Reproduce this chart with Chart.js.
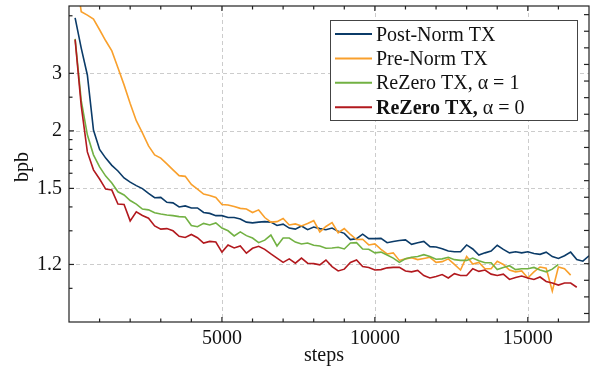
<!DOCTYPE html>
<html lang="en">
<head>
<meta charset="UTF-8">
<title>bpb vs steps</title>
<script src="https://cdn.jsdelivr.net/npm/chart.js"></script>
<style>
  html, body { margin: 0; padding: 0; background: #fff; }
  #wrap { width: 593px; height: 370px; }
</style>
</head>
<body>
<div id="wrap"><canvas id="bpbChart"></canvas></div>
<script>
// training steps (shared x values)
const steps = [200, 400, 600, 800, 1000, 1200, 1400, 1600, 1800, 2000,
  2200, 2400, 2600, 2800, 3000, 3200, 3400, 3600, 3800, 4000,
  4200, 4400, 4600, 4800, 5000, 5200, 5400, 5600, 5800, 6000,
  6200, 6400, 6600, 6800, 7000, 7200, 7400, 7600, 7800, 8000,
  8200, 8400, 8600, 8800, 9000, 9200, 9400, 9600, 9800, 10000,
  10200, 10400, 10600, 10800, 11000, 11200, 11400, 11600, 11800, 12000,
  12200, 12400, 12600, 12800, 13000, 13200, 13400, 13600, 13800, 14000,
  14200, 14400, 14600, 14800, 15000, 15200, 15400, 15600, 15800, 16000,
  16200, 16400, 16600, 16800, 17000];

// bits per byte for each run
const postNorm = [4.9, 3.71, 2.96, 2.01, 1.80, 1.72, 1.66, 1.617, 1.567, 1.539,
  1.517, 1.499, 1.471, 1.447, 1.449, 1.423, 1.42, 1.40, 1.405, 1.395,
  1.395, 1.374, 1.37, 1.36, 1.36, 1.352, 1.352, 1.346, 1.333, 1.33,
  1.333, 1.335, 1.333, 1.32, 1.325, 1.31, 1.306, 1.318, 1.304, 1.314,
  1.308, 1.304, 1.31, 1.298, 1.291, 1.27, 1.273, 1.288, 1.273, 1.273,
  1.274, 1.26, 1.264, 1.267, 1.269, 1.255, 1.26, 1.264, 1.248, 1.247,
  1.242, 1.235, 1.233, 1.233, 1.253, 1.241, 1.224, 1.23, 1.235, 1.252,
  1.24, 1.23, 1.233, 1.23, 1.233, 1.228, 1.226, 1.232, 1.22, 1.215,
  1.222, 1.232, 1.212, 1.208, 1.222];

const preNorm = [8.0, 5.2, 5.03, 4.84, 4.38, 3.96, 3.62, 3.14, 2.74, 2.39,
  2.13, 1.976, 1.834, 1.748, 1.72, 1.672, 1.625, 1.583, 1.578, 1.524,
  1.496, 1.467, 1.459, 1.448, 1.412, 1.409, 1.402, 1.393, 1.39, 1.374,
  1.386, 1.352, 1.333, 1.335, 1.348, 1.322, 1.326, 1.318, 1.328, 1.339,
  1.296, 1.316, 1.331, 1.293, 1.308, 1.287, 1.27, 1.271, 1.253, 1.256,
  1.24, 1.227, 1.23, 1.21, 1.214, 1.217, 1.212, 1.215, 1.218, 1.205,
  1.207, 1.214, 1.2, 1.187, 1.22, 1.201, 1.205, 1.19, 1.19, 1.208,
  1.2, 1.187, 1.183, 1.185, 1.17, 1.183, 1.194, 1.191, 1.145, 1.194,
  1.19, 1.176];

const reZeroOne = [4.03, 2.44, 1.953, 1.749, 1.648, 1.58, 1.534, 1.48, 1.462, 1.432,
  1.414, 1.39, 1.386, 1.373, 1.367, 1.363, 1.36, 1.356, 1.354, 1.32,
  1.315, 1.328, 1.322, 1.33, 1.31, 1.3, 1.282, 1.296, 1.283, 1.275,
  1.26, 1.268, 1.285, 1.25, 1.275, 1.275, 1.262, 1.256, 1.259, 1.252,
  1.25, 1.243, 1.244, 1.246, 1.241, 1.259, 1.26, 1.241, 1.24, 1.23,
  1.232, 1.224, 1.216, 1.205, 1.214, 1.218, 1.22, 1.225, 1.22, 1.213,
  1.214, 1.218, 1.212, 1.21, 1.21, 1.216, 1.209, 1.204, 1.204, 1.188,
  1.193, 1.197, 1.188, 1.19, 1.19, 1.193, 1.187, 1.183, 1.189, 1.2];

const reZeroZero = [4.0, 2.35, 1.776, 1.625, 1.56, 1.496, 1.49, 1.414, 1.412, 1.338,
  1.377, 1.361, 1.349, 1.318, 1.306, 1.308, 1.3, 1.281, 1.277, 1.287,
  1.276, 1.259, 1.264, 1.262, 1.232, 1.253, 1.244, 1.25, 1.229, 1.243,
  1.249, 1.24, 1.227, 1.216, 1.205, 1.214, 1.203, 1.216, 1.203, 1.202,
  1.199, 1.211, 1.195, 1.185, 1.189, 1.205, 1.211, 1.195, 1.193, 1.187,
  1.188, 1.192, 1.193, 1.193, 1.185, 1.183, 1.186, 1.175, 1.17, 1.173,
  1.177, 1.17, 1.179, 1.175, 1.175, 1.19, 1.184, 1.187, 1.178, 1.175,
  1.178, 1.167, 1.171, 1.174, 1.17, 1.167, 1.172, 1.163, 1.16, 1.156,
  1.16, 1.16, 1.152];

const seriesLabels = ['Post-Norm TX', 'Pre-Norm TX', 'ReZero TX, α = 1', 'ReZero TX, α = 0'];
const seriesColors = ['#0b3b68', '#f9a02c', '#72b143', '#b2191e'];

// axis ticks
const xTickValues = [5000, 10000, 15000];
const xTickLabels = ['5000', '10000', '15000'];
const yTickValues = [1.2, 1.5, 2, 3];
const yTickLabels = ['1.2', '1.5', '2', '3'];
const yMinorValues = [1.15, 1.3, 1.4, 1.6, 1.7, 1.8, 1.9, 2.5, 5];

const FONT = '"Liberation Serif", "Times New Roman", serif';

// y axis runs in log(bpb - 1)
const toAxis = v => Math.log(v - 1);

function toPoints(values) {
  return values.map((v, i) => ({ x: steps[i], y: toAxis(v) }));
}

const runs = [postNorm, preNorm, reZeroOne, reZeroZero];

// no extra room for overhanging tick labels
function noOverhang(scale) {
  scale.paddingTop = 0;
  scale.paddingBottom = 0;
  scale.paddingLeft = 0;
  scale.paddingRight = 0;
}

const frame = {
  id: 'frame',
  beforeDatasetsDraw(chart) {
    const { ctx, chartArea: a, scales: { x, y } } = chart;
    ctx.save();
    ctx.strokeStyle = '#cccccc';
    ctx.lineWidth = 1;
    ctx.setLineDash([4, 3]);
    xTickValues.forEach(v => {
      const px = Math.round(x.getPixelForValue(v)) + 0.5;
      ctx.beginPath(); ctx.moveTo(px, a.top); ctx.lineTo(px, a.bottom); ctx.stroke();
    });
    yTickValues.forEach(v => {
      const py = Math.round(y.getPixelForValue(toAxis(v))) + 0.5;
      ctx.beginPath(); ctx.moveTo(a.left, py); ctx.lineTo(a.right, py); ctx.stroke();
    });
    ctx.restore();
  },
  afterDatasetsDraw(chart) {
    const { ctx, chartArea: a, scales: { x, y } } = chart;
    ctx.save();
    ctx.strokeStyle = '#222';
    ctx.lineWidth = 1.2;
    ctx.setLineDash([]);

    // x ticks, top and bottom, every 1000 steps
    for (let s = 1000; s < 17000; s += 1000) {
      const px = x.getPixelForValue(s);
      const len = s % 5000 === 0 ? 5 : 3.5;
      ctx.beginPath();
      ctx.moveTo(px, a.bottom); ctx.lineTo(px, a.bottom - len);
      ctx.moveTo(px, a.top); ctx.lineTo(px, a.top + len);
      ctx.stroke();
    }
    // left ticks
    yTickValues.concat(yMinorValues).forEach(v => {
      const py = y.getPixelForValue(toAxis(v));
      const len = yTickValues.includes(v) ? 5 : 3.5;
      ctx.beginPath(); ctx.moveTo(a.left, py); ctx.lineTo(a.left + len, py); ctx.stroke();
    });
    // right ticks on the raw log axis
    for (let t = -2.2; t < 1.5; t += 0.2) {
      const py = y.getPixelForValue(t);
      ctx.beginPath(); ctx.moveTo(a.right, py); ctx.lineTo(a.right - 5, py); ctx.stroke();
    }
    ctx.strokeRect(a.left, a.top, a.right - a.left, a.bottom - a.top);

    // axis titles
    ctx.fillStyle = '#111';
    ctx.font = '20px ' + FONT;
    ctx.textAlign = 'center';
    ctx.textBaseline = 'alphabetic';
    ctx.fillText('steps', 324, 361);
    ctx.translate(28, 167);
    ctx.rotate(-Math.PI / 2);
    ctx.fillText('bpb', 0, 0);
    ctx.restore();
  },
  afterDraw(chart) {
    const { ctx } = chart;
    ctx.save();
    ctx.fillStyle = '#fff';
    ctx.fillRect(330.5, 20.5, 247, 100);
    ctx.strokeStyle = '#444';
    ctx.lineWidth = 1;
    ctx.strokeRect(330.5, 20.5, 247, 100);
    ctx.textAlign = 'left';
    ctx.textBaseline = 'alphabetic';
    seriesLabels.forEach((label, i) => {
      const yRow = 34 + i * 24.4;
      ctx.strokeStyle = seriesColors[i];
      ctx.lineWidth = 2;
      ctx.beginPath(); ctx.moveTo(335, yRow); ctx.lineTo(372, yRow); ctx.stroke();
      ctx.fillStyle = '#111';
      if (i === 3) {
        const head = label.slice(0, label.indexOf(',') + 1);
        ctx.font = 'bold 20px ' + FONT;
        ctx.fillText(head, 376, yRow + 6.5);
        const w = ctx.measureText(head).width;
        ctx.font = '20px ' + FONT;
        ctx.fillText(label.slice(head.length), 376 + w, yRow + 6.5);
      } else {
        ctx.font = '20px ' + FONT;
        ctx.fillText(label, 376, yRow + 6.5);
      }
    });
    ctx.restore();
  }
};

new Chart(document.getElementById('bpbChart'), {
  type: 'line',
  data: {
    datasets: runs.map((values, i) => ({
      label: seriesLabels[i],
      data: toPoints(values),
      borderColor: seriesColors[i],
      backgroundColor: seriesColors[i],
      borderWidth: 1.6,
      pointRadius: 0,
      tension: 0,
      fill: false
    })).reverse()
  },
  options: {
    responsive: true,
    maintainAspectRatio: false,
    animation: false,
    layout: { padding: { top: 6, right: 4, left: 0, bottom: 0 } },
    plugins: { legend: { display: false }, tooltip: { enabled: false } },
    scales: {
      x: {
        type: 'linear',
        min: 0,
        max: 17000,
        grid: { display: false, drawTicks: false },
        border: { display: false },
        afterBuildTicks: scale => { scale.ticks = xTickValues.map(v => ({ value: v })); },
        afterFit: scale => { scale.height = 48; noOverhang(scale); },
        ticks: {
          padding: 5,
          maxRotation: 0,
          color: '#111',
          font: { family: FONT, size: 20 },
          callback: (value, index) => xTickLabels[index]
        }
      },
      y: {
        type: 'linear',
        min: toAxis(1.1),
        max: toAxis(5.5),
        grid: { display: false, drawTicks: false },
        border: { display: false },
        afterBuildTicks: scale => { scale.ticks = yTickValues.map(v => ({ value: toAxis(v) })); },
        afterFit: scale => { scale.width = 69; noOverhang(scale); },
        ticks: {
          padding: 7,
          color: '#111',
          font: { family: FONT, size: 20 },
          callback: (value, index) => yTickLabels[index]
        }
      }
    }
  },
  plugins: [frame]
});
</script>
</body>
</html>
